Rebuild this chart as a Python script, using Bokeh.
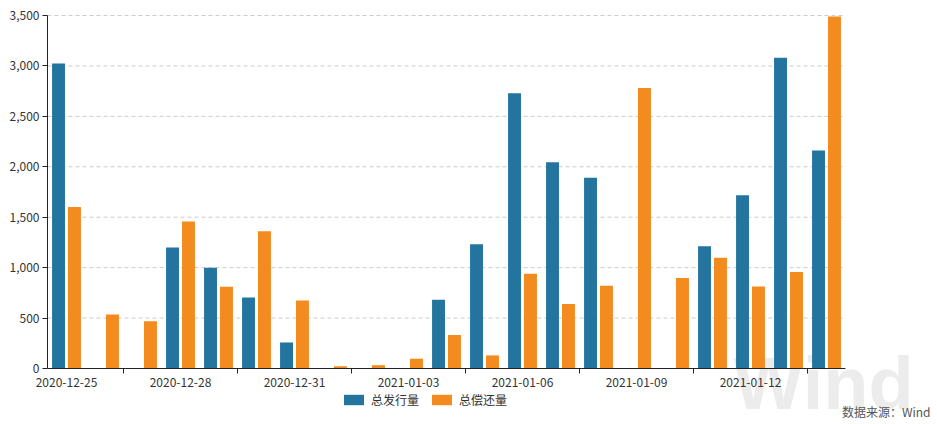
from bokeh.plotting import figure
from bokeh.models import (ColumnDataSource, Range1d, FixedTicker,
                          NumeralTickFormatter, Legend, LegendItem, Label)
from bokeh.transform import dodge
from bokeh.embed import file_html
from bokeh.resources import INLINE

dates = ["2020-12-25", "2020-12-26", "2020-12-27", "2020-12-28", "2020-12-29", "2020-12-30",
         "2020-12-31", "2021-01-01", "2021-01-02", "2021-01-03", "2021-01-04", "2021-01-05",
         "2021-01-06", "2021-01-07", "2021-01-08", "2021-01-09", "2021-01-10", "2021-01-11",
         "2021-01-12", "2021-01-13", "2021-01-14"]
issuance = [3025, 0, 0, 1200, 1000, 705, 258, 0, 0, 0, 682, 1232, 2730, 2046, 1892, 0, 0,
            1213, 1718, 3082, 2162]
repayment = [1602, 536, 468, 1458, 810, 1362, 673, 22, 33, 97, 332, 130, 939, 639, 820, 2780,
             898, 1098, 814, 956, 3490]
y_ticks = [0, 500, 1000, 1500, 2000, 2500, 3000, 3500]
series_names = ["总发行量", "总偿还量"]
source_note = "数据来源：Wind"
watermark = "Wind"
label_every = 3

FONT = "Noto Sans CJK SC"
BLUE = "#23749f"
ORANGE = "#f38b1e"

n = len(dates)
ymax = y_ticks[-1]

# the frame fills the whole canvas; the bar area is 798 x 353 px at (47, 15)
W, H = 937, 424
LEFT, TOP = 47, 15
AREA_W, AREA_H = 798, 353
ux = AREA_W / n          # px per category
uy = AREA_H / ymax       # px per unit
x_lo, x_hi = -LEFT / ux, (W - LEFT) / ux
y_hi = ymax + TOP / uy
y_lo = -(H - TOP - AREA_H) / uy

src = ColumnDataSource(dict(x=[i + 0.5 for i in range(n)], a=issuance, b=repayment))
grid_src = ColumnDataSource(dict(y=y_ticks[1:], x0=[0] * (len(y_ticks) - 1),
                                 x1=[n] * (len(y_ticks) - 1)))

p = figure(frame_width=W, frame_height=H, output_backend="svg", toolbar_location=None,
           x_range=Range1d(x_lo, x_hi), y_range=Range1d(y_lo, y_hi), min_border=0)
p.outline_line_color = None
p.background_fill_color = "white"
p.xgrid.grid_line_color = None
p.ygrid.grid_line_color = None

wm = Label(x=733, y=0, x_units="screen", y_units="screen", text=watermark,
           text_font="Liberation Sans", text_font_size="74px", text_color="#ececec",
           text_font_style="bold", text_baseline="bottom", level="underlay")
p.add_layout(wm)

gl = p.segment(x0="x0", x1="x1", y0="y", y1="y", source=grid_src,
               line_color="#cccccc", line_dash="4 3", line_width=1)
gl.level = "underlay"

r1 = p.vbar(x=dodge("x", -0.21, range=p.x_range), top="a", width=0.34, source=src,
            fill_color=BLUE, line_color=None)
r2 = p.vbar(x=dodge("x", 0.21, range=p.x_range), top="b", width=0.34, source=src,
            fill_color=ORANGE, line_color=None)

major = [i + 0.5 for i in range(0, n, label_every)]
minor = [i for i in range(label_every - 1, n, label_every)]
xa = p.xaxis[0]
xa.fixed_location = 0
xa.bounds = (0, n)
xa.ticker = FixedTicker(ticks=major, minor_ticks=minor)
xa.major_label_overrides = {i + 0.5: dates[i] for i in range(0, n, label_every)}
xa.major_tick_out = 0
xa.major_tick_in = 0
xa.minor_tick_out = 5
xa.minor_tick_in = 0
xa.minor_tick_line_color = "#222"
xa.axis_line_color = "#222"
xa.major_label_standoff = 4

ya = p.yaxis[0]
ya.fixed_location = 0
ya.bounds = (0, ymax)
ya.ticker = FixedTicker(ticks=y_ticks)
ya.formatter = NumeralTickFormatter(format="0,0")
ya.minor_tick_line_color = None
ya.major_tick_out = 5
ya.major_tick_in = 0
ya.axis_line_color = "#222"
ya.major_tick_line_color = "#222"
ya.major_label_standoff = 3

for ax in (xa, ya):
    ax.major_label_text_font = FONT
    ax.major_label_text_font_size = "12px"
    ax.major_label_text_color = "#333333"

legend = Legend(items=[LegendItem(label=series_names[0], renderers=[r1]),
                       LegendItem(label=series_names[1], renderers=[r2])],
                orientation="horizontal", location=(LEFT + 294, 16),
                glyph_width=25, glyph_height=13, label_height=13, spacing=10, label_standoff=5,
                label_text_font=FONT, label_text_font_size="12px", label_text_color="#333333",
                border_line_color=None, background_fill_alpha=0, padding=2, margin=0)
p.add_layout(legend, "center")

note = Label(x=W - 7, y=5, x_units="screen", y_units="screen", text=source_note,
             text_font=FONT, text_font_size="12px", text_color="#555555",
             text_align="right", text_baseline="bottom")
p.add_layout(note)

open("out.html", "w").write(file_html(p, INLINE))
